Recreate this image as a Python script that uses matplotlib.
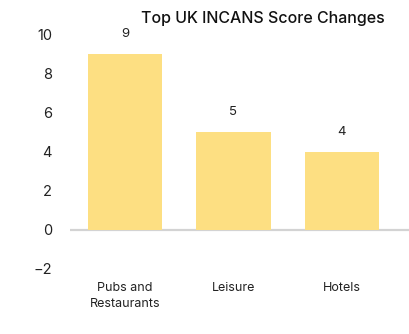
import matplotlib.pyplot as plt

categories = ['Pubs and\nRestaurants', 'Leisure', 'Hotels']
changes = [9, 5, 4]
yticks = [-2, 0, 2, 4, 6, 8, 10]

plt.rcParams['font.family'] = ['Inter', 'DejaVu Sans']

fig = plt.figure(figsize=(4.1, 3.34), dpi=100)
ax = fig.add_axes([70 / 410, 65 / 334, 340 / 410, 234.5 / 334])

x = range(len(categories))
ax.bar(x, changes, width=0.687, color='#FDDF82', zorder=2)

for xi, v in zip(x, changes):
    ax.annotate(str(v), (xi, v), xytext=(0, 14.5), textcoords='offset points',
                ha='center', va='center', fontsize=9.5, color='#222222')

ax.axhline(0, color='#D3D3D3', lw=1.6, zorder=1)

ax.set_xlim(-0.507, 2.627)
ax.set_ylim(-2, 10)
ax.set_yticks(yticks)
ax.set_yticklabels([str(t).replace('-', '\u2212') for t in yticks], fontsize=10.5, color='#222222')
ax.set_xticks(list(x))
ax.set_xticklabels(categories, fontsize=9, color='#222222', linespacing=1.45)
ax.tick_params(axis='y', length=0, pad=13)
ax.tick_params(axis='x', length=0, pad=9.5)
for s in ax.spines.values():
    s.set_visible(False)

fig.text(263 / 410, 1 - 19 / 334, 'Top UK INCANS Score Changes', ha='center', va='center',
         fontsize=11.5, fontweight='medium', color='#111111')

fig.savefig('out.png', dpi=100)
